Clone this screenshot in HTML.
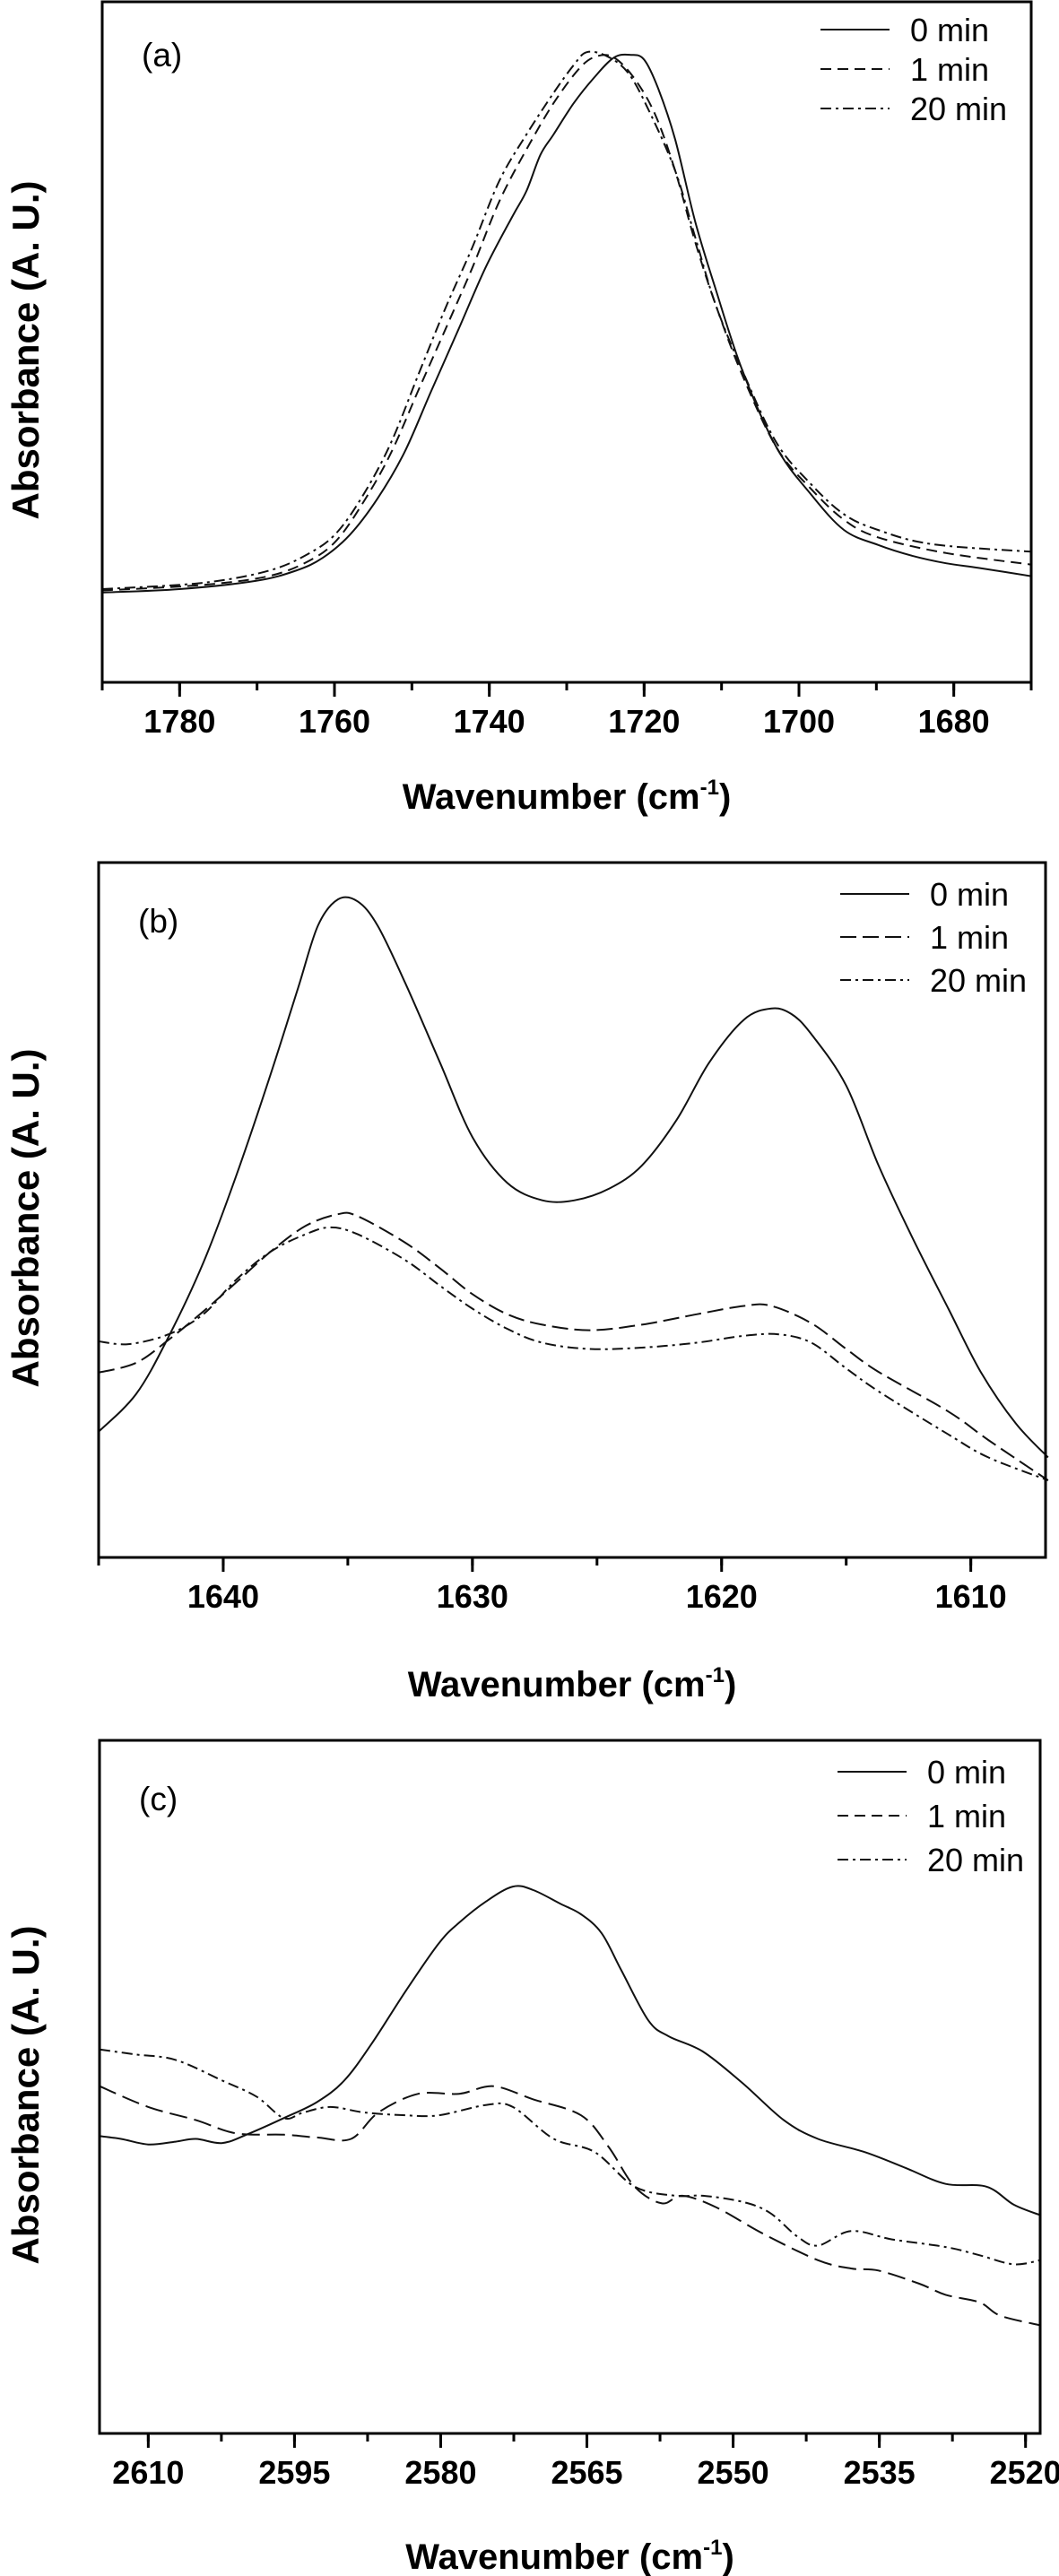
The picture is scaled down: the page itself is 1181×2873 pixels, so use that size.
<!DOCTYPE html>
<html><head><meta charset="utf-8"><style>
html,body{margin:0;padding:0;background:#fff;}
svg{display:block;font-family:"Liberation Sans",Arial,sans-serif;}
</style></head><body>
<svg id="fig" width="1181" height="2873" viewBox="0 0 1181 2873" xmlns="http://www.w3.org/2000/svg"></svg>
<script>
// ---------- Panel (a) data ----------
const aWn0=[1790,1780,1770.2,1765,1761.5,1758,1754.5,1751,1747.5,1744,1740.5,1737,1735.2,1733.4,1731.7,1729.1,1726.5,1723.9,1721.7,1720,1718.2,1716,1713.4,1710.8,1707.3,1702.9,1698.5,1694.2,1689.8,1685.4,1681,1676.7,1670];
const aAbs0=[13.2,13.7,14.9,16.4,18.3,21.7,26.9,33.7,42.8,51.8,60.9,68.5,72.2,77.5,80.5,85.1,88.8,91.8,92.2,91.5,87.3,79.8,67.7,57.9,45.8,34.5,27.7,22.4,20.2,18.6,17.5,16.8,15.6];
const aWn1=[1790,1777.2,1768.5,1763.2,1759.7,1756.2,1752.7,1749.2,1745.7,1742.2,1738.7,1735.2,1731.7,1728.3,1726.1,1723.9,1721.3,1718.6,1716,1713.4,1710.8,1707.3,1702.9,1698.5,1694.2,1689.8,1681,1670];
const aAbs1=[13.5,14.3,15.6,17.9,20.9,26.6,33.7,42.8,51.8,60.9,70.7,78.3,85.1,90.3,92.0,91.8,88.8,83.5,75.2,64.7,55.6,45.1,34.5,28.5,23.9,21.3,19.0,17.3];
const aWn20=[1790,1777.2,1768.5,1763.2,1759.7,1756.2,1752.7,1749.2,1745.7,1742.2,1738.7,1735.2,1731.7,1729.1,1727.4,1724.8,1722.1,1719.5,1716,1713.4,1710.8,1707.3,1702.9,1698.5,1694.2,1689.8,1682.8,1670];
const aAbs20=[13.7,14.6,16.4,19.0,22.0,27.7,35.2,45.1,54.9,63.9,73.7,80.5,86.6,90.7,92.6,92.0,89.6,84.3,75.2,65.4,55.6,45.8,35.2,29.2,24.7,22.4,20.3,19.2];
const aTicks=[1780,1760,1740,1720,1700,1680];
// ---------- Panel (b) data ----------
const bWn0=[1645,1643.5,1642.2,1640.8,1639.5,1638.1,1637,1636.2,1635.4,1634.6,1633.8,1632.7,1631.3,1630,1628.6,1627.2,1625.9,1624.5,1623.2,1621.8,1620.5,1619.1,1618,1617.2,1616.4,1615,1613.7,1612.3,1610.9,1609.6,1608.2,1606.9];
const bAbs0=[18.1,23.5,31.7,42.4,54.7,69.5,81.9,90.9,94.7,94.4,90.9,82.7,71.2,60.5,53.9,51.4,51.4,53.1,56.4,63.0,71.2,77.4,79.0,78.2,75.3,67.9,56.4,45.7,35.8,26.7,19.3,14.4];
const bWn1=[1645,1643.5,1642.2,1640.8,1639.5,1638.1,1636.7,1635.4,1634.6,1632.7,1631.3,1630,1628.6,1627.2,1625.3,1623.2,1621,1619.1,1618,1616.4,1615,1613.7,1610.9,1609.3,1606.9];
const bAbs1=[26.6,28.0,31.3,35.4,39.5,44.0,47.7,49.4,49.1,45.3,41.6,37.9,35.0,33.5,32.7,33.5,35.0,36.2,36.2,33.7,30.0,26.7,21.0,16.9,11.1];
const bWn20=[1645,1643.8,1642.2,1640.8,1639.5,1638.1,1636.7,1635.7,1634.6,1632.7,1631.3,1630,1628.6,1627.2,1625.3,1623.2,1621,1619.1,1617.7,1616.4,1615,1613.7,1610.9,1609.3,1606.9];
const bAbs20=[31.1,30.7,32.1,35.0,39.9,44.0,46.5,47.5,46.5,42.8,39.1,35.8,32.9,30.9,30.0,30.2,30.9,31.9,32.1,30.9,27.2,23.9,17.7,14.4,11.1];
const bTicks=[1640,1630,1620,1610];
// ---------- Panel (c) data ----------
const cWn0=[2615,2612.8,2610,2607.2,2605.1,2602.4,2599.6,2596.1,2592.7,2589.9,2587.1,2583.6,2580.2,2578.1,2575.3,2572.6,2570.5,2567.7,2565.6,2563.5,2561.5,2558.7,2556.6,2553.1,2549,2544.8,2541.3,2536.5,2532.3,2528.2,2524,2521.2,2518.5];
const cAbs0=[42.9,42.5,41.7,42.1,42.5,41.9,43.3,45.5,47.8,50.9,56.2,63.8,70.7,73.7,76.8,78.9,78.4,76.4,74.9,72.2,66.9,59.6,57.3,55.1,50.5,45.2,42.5,40.6,38.3,36.0,35.6,33.0,31.5];
const cWn1=[2615,2610,2605.1,2601,2596.1,2592.7,2589.2,2586.4,2582.3,2578.1,2574.6,2570.5,2565.6,2562.8,2560.1,2557.3,2555.2,2551.7,2546.9,2541.3,2537.9,2535.1,2530.9,2528.2,2524.7,2522.6,2518.5];
const cAbs1=[50.1,47.1,45.2,43.3,43.1,42.7,42.5,46.3,49.0,49.0,50.1,48.2,45.9,41.4,35.6,33.2,34.3,32.6,28.8,25.0,23.8,23.5,21.6,20.0,18.9,17.0,15.6];
const cWn20=[2615,2611.4,2607.2,2602.4,2598.9,2596.1,2594.1,2591.3,2587.8,2583.6,2580.2,2575.3,2572.6,2568.4,2564.2,2560.1,2555.9,2553.1,2549,2546.2,2543.4,2541.3,2537.9,2533.7,2528.2,2524.7,2521.2,2518.5];
const cAbs20=[55.4,54.7,53.9,50.9,48.6,45.5,46.3,47.1,46.3,45.9,45.9,47.4,47.1,42.5,40.6,35.6,34.3,34.3,33.4,31.8,28.4,27.1,29.2,28.0,26.9,25.7,24.4,25.0];
const cTicks=[2610,2595,2580,2565,2550,2535,2520];

const NS="http://www.w3.org/2000/svg";
const svg=document.getElementById('fig');
function mk(tag,attrs,parent){const e=document.createElementNS(NS,tag);for(const k in attrs)e.setAttribute(k,attrs[k]);(parent||svg).appendChild(e);return e;}

function smoothPath(pts){
  let d='M'+pts[0][0].toFixed(1)+','+pts[0][1].toFixed(1);
  for(let i=0;i<pts.length-1;i++){
    const p0=pts[i-1]||pts[i],p1=pts[i],p2=pts[i+1],p3=pts[i+2]||p2;
    const c1x=p1[0]+(p2[0]-p0[0])/6,c1y=p1[1]+(p2[1]-p0[1])/6;
    const c2x=p2[0]-(p3[0]-p1[0])/6,c2y=p2[1]-(p3[1]-p1[1])/6;
    d+='C'+c1x.toFixed(1)+','+c1y.toFixed(1)+' '+c2x.toFixed(1)+','+c2y.toFixed(1)+' '+p2[0].toFixed(1)+','+p2[1].toFixed(1);
  }
  return d;
}

function panel(o){
  const g=mk('g',{});
  
  
  const L=o.L,R=o.R,T=o.T,B=o.B;
  const xs=w=>L+(o.x0-w)/(o.x0-o.x1)*(R-L);
  const ys=v=>B-v/100*(B-T);
  o.series.forEach(s=>{
    const pts=s.wn.map((w,i)=>[xs(w),ys(s.v[i])]);
    const p=mk('path',{d:smoothPath(pts),fill:'none',stroke:'#111','stroke-width':2,'stroke-linejoin':'round','stroke-dasharray':s.dash||'none'},g);
    
    
  });
  const box=mk('rect',{x:L,y:T,width:R-L,height:B-T,fill:'none',stroke:'#000','stroke-width':3},g);
  
  
  for(let w=o.minStart;w>=o.x1-1e-6;w-=o.minor){
    const x=xs(w);if(x<L-1||x>R+1)continue;
    const t=mk('line',{x1:x,x2:x,y1:B,y2:B+9,stroke:'#000','stroke-width':3},g);
    
    
  }
  o.ticks.forEach(w=>{
    const x=xs(w);
    const t=mk('line',{x1:x,x2:x,y1:B,y2:B+16,stroke:'#000','stroke-width':3},g);
    
    
    const tx=mk('text',{x:x,y:B+56,'text-anchor':'middle','font-size':36,'font-weight':'bold',fill:'#000'},g);
    tx.textContent=w;
    
    
  });
  const xl=mk('text',{x:(L+R)/2,y:B+o.xlOff,'text-anchor':'middle','font-size':40,'font-weight':'bold',fill:'#000'},g);
  xl.innerHTML='Wavenumber (cm<tspan font-size="24" dy="-16">-1</tspan><tspan dy="16">)</tspan>';
  
  
  const cy=(T+B)/2+9;
  const yl=mk('text',{x:0,y:0,transform:'translate(43,'+cy+') rotate(-90)','text-anchor':'middle','font-size':42,'font-weight':'bold',fill:'#000'},g);
  yl.textContent='Absorbance (A. U.)';
  
  
  const tg=mk('text',{x:L+44,y:T+o.tagY,'font-size':37,fill:'#000'},g);
  tg.textContent='('+o.id+')';
  
  
  o.series.forEach((s,i)=>{
    const yy=T+o.legY+i*o.legStep;
    const ln=mk('line',{x1:o.legX,x2:o.legX+77,y1:yy,y2:yy,stroke:'#111','stroke-width':2,'stroke-dasharray':s.legDash||s.dash||'none'},g);
    
    
    const lt=mk('text',{x:o.legX+100,y:yy+13,'font-size':36,fill:'#000'},g);
    lt.textContent=s.label;
    
    
  });
}

panel({id:'a',L:114,R:1150,T:2,B:761,x0:1790,x1:1670,ticks:aTicks,minor:10,minStart:1790,xlOff:141,tagY:72,legX:915,legY:31,legStep:44,
  series:[{name:'0-min',label:'0 min',wn:aWn0,v:aAbs0},
          {name:'1-min',label:'1 min',wn:aWn1,v:aAbs1,dash:'12 7'},
          {name:'20-min',label:'20 min',wn:aWn20,v:aAbs20,dash:'12 5 3 5'}]});
panel({id:'b',L:110,R:1166,T:962,B:1737,x0:1645,x1:1607,ticks:bTicks,minor:5,minStart:1645,xlOff:155,tagY:78,legX:937,legY:35,legStep:48,
  series:[{name:'0-min',label:'0 min',wn:bWn0,v:bAbs0},
          {name:'1-min',label:'1 min',wn:bWn1,v:bAbs1,dash:'18 7'},
          {name:'20-min',label:'20 min',wn:bWn20,v:bAbs20,dash:'12 5 3 5'}]});
panel({id:'c',L:111,R:1160,T:1941,B:2714,x0:2615,x1:2518.5,ticks:cTicks,minor:7.5,minStart:2617.5,xlOff:151,tagY:78,legX:934,legY:35,legStep:49,
  series:[{name:'0-min',label:'0 min',wn:cWn0,v:cAbs0},
          {name:'1-min',label:'1 min',wn:cWn1,v:cAbs1,dash:'20 8',legDash:'12 7'},
          {name:'20-min',label:'20 min',wn:cWn20,v:cAbs20,dash:'12 5 3 5'}]});
</script>
</body></html>
